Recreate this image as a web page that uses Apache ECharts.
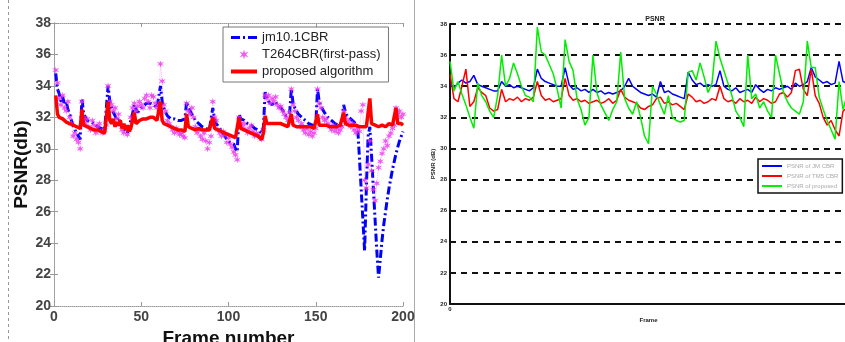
<!DOCTYPE html>
<html>
<head>
<meta charset="utf-8">
<script src="https://cdn.jsdelivr.net/npm/echarts@6/dist/echarts.min.js"></script>
<style>
  html, body { margin: 0; padding: 0; background: #fff; }
  #chart { width: 845px; height: 342px; }
</style>
</head>
<body>
<div id="chart"></div>
<script>
// ---- Left panel: PSNR per frame (frames 1..200) ----
const leftTicksY = [20, 22, 24, 26, 28, 30, 32, 34, 36, 38];
const leftTicksX = [0, 50, 100, 150, 200];

const jm101CBR = [
  34.8, 33.8, 33.5, 33.0, 33.3, 32.8, 33.0, 32.5, 32.2, 31.8, 31.5, 31.2, 31.0, 30.8, 30.6,
  33.2, 32.2, 32.0, 31.8, 31.9, 31.7, 31.6, 31.6, 31.5, 31.4, 31.4, 31.3, 31.2, 31.2, 31.3,
  34.0, 33.0, 32.6, 32.3, 32.1, 31.8, 32.0, 31.6, 31.5, 31.3, 31.2, 31.0, 31.4, 31.8, 32.2,
  32.8, 32.5, 32.3, 32.5, 32.6, 32.7, 32.8, 32.9, 33.0, 32.9, 32.8, 32.8, 32.7, 32.6, 32.5,
  34.0, 33.0, 32.6, 32.3, 32.1, 32.0, 31.9, 31.8, 31.9, 31.8, 31.8, 31.9, 31.8, 31.8, 31.9,
  33.0, 32.6, 32.4, 32.2, 32.0, 31.8, 31.8, 31.6, 31.5, 31.4, 31.4, 31.3, 31.2, 31.2, 31.1,
  32.6, 31.9, 31.6, 31.5, 31.3, 31.1, 31.0, 30.8, 30.6, 30.5, 30.4, 30.4, 30.3, 30.0, 29.8,
  32.2, 31.9, 31.8, 31.8, 31.7, 31.6, 31.6, 31.5, 31.4, 31.3, 31.3, 31.2, 31.1, 31.0, 31.4,
  33.6, 33.2, 33.0, 33.0, 32.8, 32.9, 33.0, 32.8, 32.7, 32.6, 32.5, 32.3, 32.1, 32.0, 32.2,
  33.8, 32.9, 32.6, 32.4, 32.2, 32.1, 32.0, 31.9, 31.8, 31.7, 31.6, 31.5, 31.5, 31.4, 31.5,
  33.8, 33.0, 32.7, 32.5, 32.3, 32.2, 32.0, 31.9, 31.8, 31.7, 31.6, 31.6, 31.5, 31.5, 31.5,
  32.8, 32.3, 32.1, 32.0, 31.9, 31.8, 31.7, 31.6, 31.4, 29.5, 27.5, 25.5, 23.5, 27.5, 30.8,
  31.4, 29.5, 27.5, 25.5, 23.5, 21.8, 23.0, 24.2, 25.2, 26.0, 26.8, 27.5, 28.1, 28.7, 29.2,
  29.7, 30.1, 30.5, 30.8, 31.1
];

const t264CBR = [
  35.0, 34.2, 33.2, 32.8, 33.4, 32.6, 32.4, 33.0, 32.0, 31.6, 30.8, 31.0, 30.6, 30.4, 30.0,
  33.0, 32.0, 31.6, 31.9, 31.4, 31.2, 31.8, 31.5, 31.0, 31.4, 31.6, 31.1, 31.0, 31.2, 31.5,
  34.0, 33.0, 32.8, 32.4, 32.6, 31.9, 32.2, 31.5, 31.2, 31.0, 31.4, 30.9, 31.2, 32.0, 32.6,
  32.9, 32.4, 32.7, 33.0, 32.8, 32.6, 33.2, 33.4, 33.0, 32.6, 33.4, 33.3, 32.9, 32.6, 32.8,
  35.4, 34.3, 32.8, 32.4, 31.8, 31.6, 31.4, 31.2, 31.0, 31.3, 31.1, 30.9, 31.0, 30.8, 30.7,
  32.9, 32.4, 32.2, 32.6, 32.0, 31.4, 31.0, 31.2, 30.8, 30.6, 31.0, 30.5, 30.0, 30.4, 30.8,
  33.0, 32.0, 31.8, 31.2, 31.0, 30.8, 31.1, 30.9, 30.4, 30.7, 30.3, 30.1, 29.8, 29.6, 29.3,
  32.0, 31.6, 31.4, 31.6, 31.2, 31.0, 31.3, 31.5, 31.1, 30.8, 31.0, 30.9, 30.7, 30.6, 31.2,
  33.4, 33.2, 33.4, 32.9, 33.2, 33.0, 33.3, 32.8, 32.6, 32.7, 32.4, 32.2, 32.0, 31.8, 32.3,
  33.8, 32.8, 32.4, 32.0, 31.8, 31.4, 31.6, 31.2, 31.0, 31.3, 30.9, 31.1, 30.8, 31.0, 31.3,
  33.8, 32.9, 32.6, 32.0, 31.8, 31.9, 31.6, 31.4, 31.2, 31.5, 31.1, 31.3, 31.0, 31.2, 31.4,
  32.4, 32.0, 31.6, 31.8, 31.4, 31.6, 31.2, 31.0, 31.3, 31.1, 32.4, 32.8, 28.0, 27.5, 29.0,
  30.5, 28.6, 27.4, 26.7, 27.8, 28.8, 29.2, 29.7, 30.0, 30.5, 30.2, 30.8, 31.0, 31.3, 31.5,
  32.6, 32.2, 32.4, 32.0, 32.2
];

const proposed = [
  33.4, 32.2, 32.0, 31.9, 31.9, 31.8, 31.7, 31.6, 31.6, 31.5, 31.5, 31.4, 31.4, 31.3, 31.3,
  32.5, 31.5, 31.4, 31.4, 31.3, 31.3, 31.3, 31.2, 31.2, 31.2, 31.1, 31.1, 31.1, 31.0, 31.1,
  33.0, 31.8, 31.6, 31.9, 31.4, 31.7, 31.5, 31.8, 31.3, 31.6, 31.2, 31.5, 31.1, 31.3, 31.2,
  32.3, 31.6, 31.7, 31.8, 31.7, 31.9, 31.8, 31.9, 32.0, 32.0, 32.1, 32.0, 31.9, 31.8, 31.8,
  33.0, 31.8, 31.6, 31.5, 31.5, 31.4, 31.4, 31.3, 31.3, 31.3, 31.2, 31.2, 31.2, 31.2, 31.1,
  32.2, 31.4, 31.3, 31.3, 31.2, 31.2, 31.2, 31.3, 31.2, 31.2, 31.1, 31.2, 31.1, 31.2, 31.1,
  32.0, 31.3, 31.2, 31.2, 31.1, 31.1, 31.0, 31.0, 30.9, 30.9, 30.8, 30.8, 30.7, 30.7, 30.7,
  32.0, 31.3, 31.2, 31.2, 31.1, 31.1, 31.0, 31.0, 30.9, 30.9, 30.8, 30.8, 30.7, 30.6, 31.0,
  32.1, 31.6, 31.5, 31.6, 31.5, 31.6, 31.5, 31.6, 31.5, 31.6, 31.5, 31.5, 31.5, 31.4, 31.4,
  32.2, 31.5, 31.4, 31.4, 31.5, 31.4, 31.4, 31.4, 31.3, 31.4, 31.3, 31.4, 31.3, 31.3, 31.4,
  32.2, 31.5, 31.4, 31.5, 31.4, 31.5, 31.4, 31.4, 31.5, 31.4, 31.5, 31.4, 31.4, 31.5, 31.4,
  32.3, 31.6, 31.5, 31.5, 31.5, 31.5, 31.4, 31.5, 31.5, 31.4, 31.5, 31.4, 31.3, 31.4, 31.4,
  33.2, 31.6, 31.5, 31.5, 31.5, 31.4, 31.5, 31.5, 31.5, 31.4, 31.5, 31.6, 31.5, 31.5, 31.4,
  32.6, 31.6, 31.5, 31.6, 31.5
];

// ---- Right panel: PSNR sampled every 3 frames ----
const rightTicksY = [20, 22, 24, 26, 28, 30, 32, 34, 36, 38];
const rightBlue = [
  34.1, 33.9, 34.2, 34.4, 34.2, 34.3, 34.7, 34.1, 34.0, 33.9,
  33.8, 33.7, 33.7, 34.3, 34.0, 34.1, 33.9, 34.0, 33.9, 33.8,
  33.7, 33.9, 35.1, 34.5, 34.3, 34.2, 34.1, 34.0, 34.0, 35.2,
  34.1, 33.8, 33.9, 33.7, 33.8, 33.6, 33.8, 33.6, 33.7, 33.5,
  33.6, 33.5, 33.6, 33.7, 34.0, 34.5, 34.0, 33.8, 33.6, 33.5,
  33.4, 33.5, 33.3, 34.3, 33.6, 33.7, 33.5, 33.4, 33.3, 33.2,
  34.9, 34.4, 34.1, 34.2, 34.0, 34.1, 34.0, 34.1, 35.0, 34.0,
  33.8, 33.7, 33.9, 33.6, 33.7, 33.8, 33.6, 34.1, 33.8, 33.6,
  33.8, 33.7, 33.9, 33.8, 33.9, 34.0, 33.8, 34.2, 34.0, 34.1,
  34.3, 35.2, 34.6, 34.4, 34.2, 34.3, 34.1, 34.2, 35.6, 34.3,
  34.2
];
const rightRed = [
  34.8, 33.2, 33.0, 34.0, 35.1, 32.7, 33.0, 33.9, 33.6, 33.4,
  32.6, 32.4, 32.5, 33.8, 33.0, 33.2, 33.1, 33.3, 33.0, 33.2,
  33.1, 33.3, 34.3, 33.4, 33.1, 33.2, 33.0, 33.1, 33.2, 34.5,
  33.4, 33.1, 33.2, 33.0, 33.1, 32.9, 33.0, 33.1, 32.9, 33.0,
  33.2, 32.9, 33.1, 33.8, 33.3, 33.1, 33.0, 32.9, 32.6, 32.5,
  32.7, 32.8, 33.2, 33.3, 32.9, 33.0, 32.8, 32.9, 32.7, 32.5,
  33.5, 33.3, 33.0, 33.1, 32.9, 33.0, 33.2, 33.1, 34.0, 33.2,
  33.0, 33.1, 32.9, 33.2, 33.0, 33.1, 32.9, 33.3, 33.0, 33.2,
  33.1, 32.9, 33.0, 33.5, 33.6, 33.3, 33.6, 35.0, 35.1, 33.8,
  33.4, 35.1, 33.4, 32.9, 32.0, 31.5, 31.8, 31.2, 30.8, 32.4,
  32.6
];
const rightGreen = [
  35.6, 33.7, 34.3, 33.5, 32.8, 32.0, 31.3, 34.2, 33.4, 33.0,
  32.4, 32.0, 33.4, 36.0, 34.0, 34.5, 35.5, 34.8, 34.0, 33.4,
  33.3, 33.0, 37.8, 36.2, 36.0, 35.4, 34.8, 33.8, 32.6, 37.0,
  35.6, 35.0, 33.2, 32.5, 31.5, 32.0, 36.0, 33.6, 32.8, 32.3,
  31.8, 32.5, 33.0, 36.2, 33.2, 32.6, 32.2, 33.0, 32.0, 30.8,
  30.3, 34.0, 33.5, 32.8, 32.2, 33.4, 32.0, 31.8, 31.7, 31.8,
  34.9, 35.0, 34.4, 35.5, 34.6, 33.6, 34.2, 36.9, 35.8, 35.0,
  34.2, 33.4, 32.4, 32.0, 31.4, 36.0, 33.2, 33.5, 32.6, 33.0,
  32.4, 32.0, 36.0, 34.8, 33.6, 33.0, 32.6, 32.4, 32.2, 33.0,
  36.9, 35.2, 35.2, 33.3, 32.5, 31.8, 31.2, 30.6, 34.3, 32.5,
  33.4
];
const rightNames = ['PSNR of JM CBR', 'PSNR of TM5 CBR', 'PSNR of proposed'];

// pair frame numbers with values
const pairs = (vals, step, start) => vals.map((v, i) => [start + i * step, v]);

const FONT = 'Liberation Sans, Arial, sans-serif';
const starPath = 'path://M0,-10 L2,-3 L9,-6 L4,0 L9,6 L2,3 L0,10 L-2,3 L-9,6 L-4,0 L-9,-6 L-2,-3 Z';
// legend swatches: dash-dot bar, solid bar
const dashDotIcon = 'path://M0,0h9v3h-9z M12,0h2v3h-2z M17,0h9v3h-9z';
const solidIcon = 'path://M0,0h26v4h-26z';
const thinIcon = 'path://M0,0h20v2h-20z';

const frameAxis = {
  type: 'value', min: 0, max: 200, interval: 50, gridIndex: 0,
  axisLine: { lineStyle: { color: '#999', type: 'dotted', width: 1 } },
  axisTick: { inside: true, length: 4, lineStyle: { color: '#999' } },
  splitLine: { show: false }
};
const psnrAxis = {
  type: 'value', min: 20, max: 38, interval: 2, gridIndex: 0,
  axisLine: { show: true, lineStyle: { color: '#999', type: 'dotted', width: 1 } },
  axisTick: { show: true, inside: true, length: 4, lineStyle: { color: '#999' } },
  splitLine: { show: false }
};

const chart = echarts.init(document.getElementById('chart'), null, { renderer: 'canvas' });
chart.setOption({
  animation: false,
  backgroundColor: '#fff',
  textStyle: { fontFamily: FONT },
  title: [{
    text: 'PSNR', left: 650, top: 11, textAlign: 'center',
    textStyle: { fontSize: 7, fontWeight: 'bold', color: '#222', fontFamily: FONT }
  }],
  grid: [
    { left: 54, top: 23, width: 349, height: 283, outerBoundsMode: 'none', containLabel: false },
    { left: 450, top: 24, width: 397, height: 280, outerBoundsMode: 'none', containLabel: false }
  ],
  legend: [{
    data: [
      { name: 'jm10.1CBR', icon: dashDotIcon, itemStyle: { color: '#0000ff' } },
      { name: 'T264CBR(first-pass)', icon: starPath, itemStyle: { color: '#ee33ee' } },
      { name: 'proposed algorithm', icon: solidIcon, itemStyle: { color: '#ff0000' } }
    ],
    orient: 'vertical', left: 223, top: 27,
    itemWidth: 26, itemHeight: 10, itemGap: 4,
    padding: [4, 8, 4, 8],
    backgroundColor: '#fff', borderColor: '#777', borderWidth: 1,
    textStyle: { fontSize: 13, color: '#222', fontFamily: FONT }
  }, {
    data: [
      { name: rightNames[0], icon: thinIcon },
      { name: rightNames[1], icon: thinIcon },
      { name: rightNames[2], icon: thinIcon }
    ],
    orient: 'vertical', left: 758, top: 159,
    itemWidth: 20, itemHeight: 2, itemGap: 4,
    padding: [4, 4, 4, 4],
    backgroundColor: '#fff', borderColor: '#111', borderWidth: 1.5,
    textStyle: { fontSize: 6, color: '#aaa', fontFamily: FONT }
  }],
  xAxis: [
    Object.assign({}, frameAxis, {
      position: 'bottom',
      name: 'Frame number', nameLocation: 'middle', nameGap: 23,
      nameTextStyle: { fontSize: 19, fontWeight: 'bold', color: '#111', fontFamily: FONT },
      axisLabel: { fontSize: 14, fontWeight: 'bold', color: '#444', margin: 4, fontFamily: FONT }
    }),
    Object.assign({}, frameAxis, { position: 'top', axisLabel: { show: false } }),
    {
      type: 'value', gridIndex: 1, min: 0, max: 300, interval: 300,
      name: 'Frame', nameLocation: 'middle', nameGap: 9,
      nameTextStyle: { fontSize: 6, fontWeight: 'bold', color: '#222', fontFamily: FONT },
      axisLine: { lineStyle: { color: '#111', width: 2 } },
      axisTick: { show: false },
      axisLabel: { fontSize: 6, fontWeight: 'bold', color: '#222', margin: 2, showMaxLabel: false },
      splitLine: { show: false }
    }
  ],
  yAxis: [
    Object.assign({}, psnrAxis, {
      position: 'left',
      name: 'PSNR(db)', nameLocation: 'middle', nameGap: 19,
      nameTextStyle: { fontSize: 19, fontWeight: 'bold', color: '#111', fontFamily: FONT },
      axisLabel: { fontSize: 14, fontWeight: 'bold', color: '#444', margin: 3, fontFamily: FONT }
    }),
    Object.assign({}, psnrAxis, { position: 'right', axisLabel: { show: false } }),
    {
      type: 'value', gridIndex: 1, min: 20, max: 38, interval: 2,
      name: 'PSNR (dB)', nameLocation: 'middle', nameGap: 12,
      nameTextStyle: { fontSize: 6, fontWeight: 'bold', color: '#222', fontFamily: FONT },
      axisLine: { show: true, lineStyle: { color: '#111', width: 2 } },
      axisTick: { show: false },
      axisLabel: { fontSize: 6, fontWeight: 'bold', color: '#222', margin: 3 },
      splitLine: { show: true, lineStyle: { color: '#111', width: 2, type: [6, 5] } }
    }
  ],
  series: [
    {
      name: 'jm10.1CBR', type: 'line', xAxisIndex: 0, yAxisIndex: 0,
      data: pairs(jm101CBR, 1, 1), symbol: 'none',
      lineStyle: { color: '#0000ff', width: 3, type: [8, 3, 2, 3] },
      itemStyle: { color: '#0000ff' }, z: 2
    },
    {
      name: 'T264CBR(first-pass)', type: 'line', xAxisIndex: 0, yAxisIndex: 0,
      data: pairs(t264CBR, 1, 1),
      symbol: starPath, symbolSize: 7,
      lineStyle: { color: '#ff00ff', width: 1, type: 'dotted', opacity: 0.3 },
      itemStyle: { color: '#ee33ee', opacity: 0.8 }, z: 3
    },
    {
      name: 'proposed algorithm', type: 'line', xAxisIndex: 0, yAxisIndex: 0,
      data: pairs(proposed, 1, 1), symbol: 'none',
      lineStyle: { color: '#ff0000', width: 3.5 },
      itemStyle: { color: '#ff0000' }, z: 4
    },
    {
      name: rightNames[0], type: 'line', xAxisIndex: 2, yAxisIndex: 2,
      data: pairs(rightBlue, 3, 0), symbol: 'none',
      lineStyle: { color: '#0000ff', width: 1.5 }, itemStyle: { color: '#0000ff' }
    },
    {
      name: rightNames[1], type: 'line', xAxisIndex: 2, yAxisIndex: 2,
      data: pairs(rightRed, 3, 0), symbol: 'none',
      lineStyle: { color: '#ff0000', width: 1.5 }, itemStyle: { color: '#ff0000' }
    },
    {
      name: rightNames[2], type: 'line', xAxisIndex: 2, yAxisIndex: 2,
      data: pairs(rightGreen, 3, 0), symbol: 'none',
      lineStyle: { color: '#00ee00', width: 1.5 }, itemStyle: { color: '#00ee00' }
    }
  ],
  graphic: [
    { type: 'line', shape: { x1: 8.5, y1: 0, x2: 8.5, y2: 342 },
      style: { stroke: '#999', lineWidth: 1, lineDash: [3, 3] } },
    { type: 'line', shape: { x1: 414.5, y1: 0, x2: 414.5, y2: 342 },
      style: { stroke: '#aaa', lineWidth: 1 } }
  ]
});
</script>
</body>
</html>
